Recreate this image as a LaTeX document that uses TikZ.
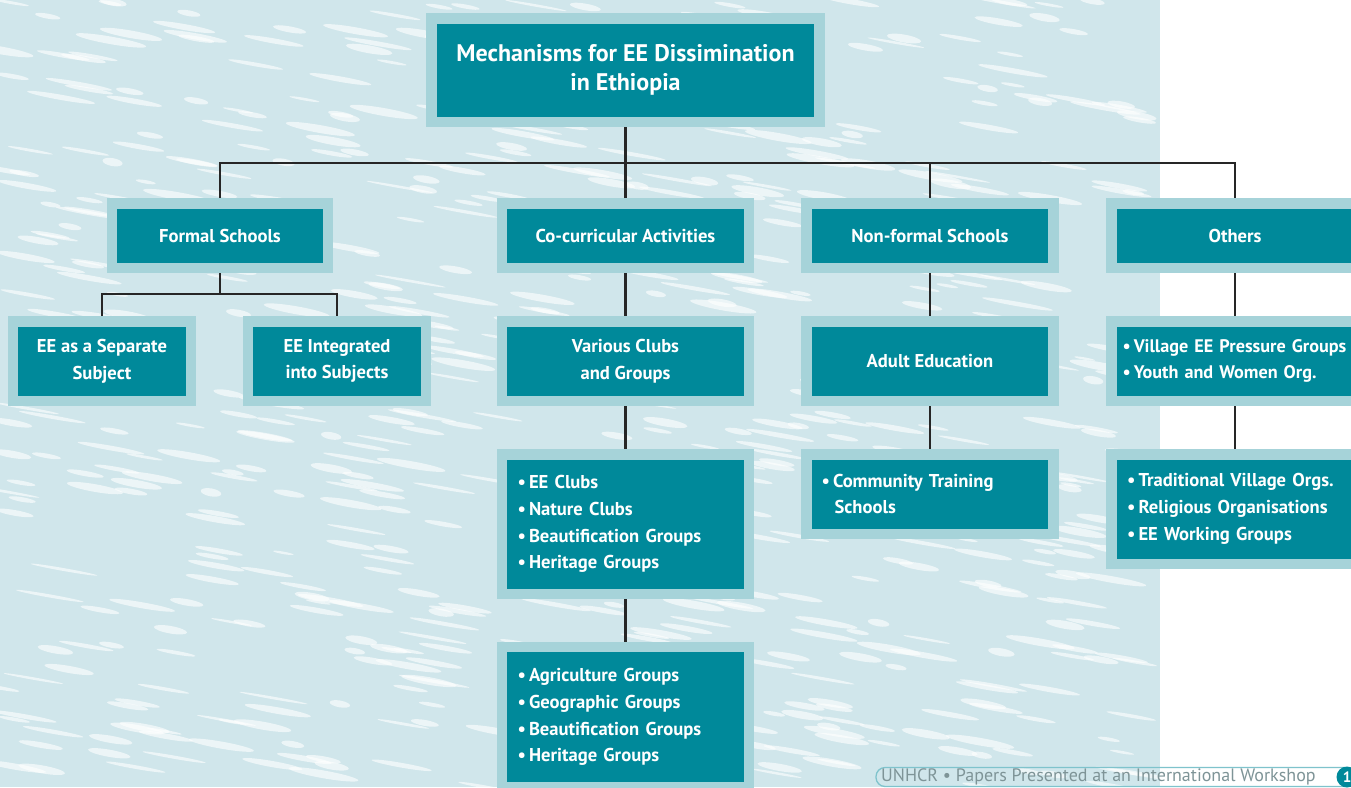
\documentclass[tikz,border=0pt]{standalone}
\usepackage{fontspec}
\setmainfont{PT Sans}
\definecolor{teal0}{HTML}{00899A}
\definecolor{rim}{HTML}{A6D3D9}
\definecolor{bg}{HTML}{D0E6EB}
\definecolor{foot}{HTML}{7E9497}
\definecolor{pill}{HTML}{7FC3CC}
\newcommand{\bul}{\textbullet\,}
\tikzset{
  box/.style={fill=teal0, draw=rim, line width=10.5pt, text=white,
    font=\bfseries\fontsize{18.6}{26.7}\selectfont, align=center,
    inner sep=0pt, minimum width=247pt, minimum height=64.5pt},
  listbox/.style={box, align=left, text width=216pt, inner xsep=15.5pt},
  link/.style={draw=black!85, line width=2.4pt},
  streak/.style={fill=white, opacity=0.6}
}
\begin{document}
\begin{tikzpicture}[x=1pt,y=-1pt]
\useasboundingbox (0,0) rectangle (1351,787);
\fill[bg] (0,0) rectangle (1160,787);
\pgfmathsetseed{11}
\foreach \i in {1,...,650}{
  \pgfmathsetmacro\xx{rnd*1150}
  \pgfmathsetmacro\yy{rnd*787}
  \pgfmathsetmacro\ww{10+rnd*26}
  \pgfmathsetmacro\hh{1.2+rnd*2.8}
  \fill[streak, rotate around={-10:(\xx,\yy)}] (\xx,\yy) ellipse [x radius=\ww, y radius=\hh];
}
\fill[white] (1160,0) rectangle (1351,787);

% title
\node[box, minimum width=388pt, minimum height=103.5pt,
  font=\bfseries\fontsize{24}{29}\selectfont] (title) at (625.5,70)
  {Mechanisms for EE Dissimination\\in Ethiopia};

% level 1
\node[box, minimum width=216pt] (formal) at (220,235.5) {Formal Schools};
\node[box] (cocurr) at (625.5,235.5) {Co-curricular Activities};
\node[box] (nonformal) at (930,235.5) {Non-formal Schools};
\node[box] (others) at (1235,235.5) {Others};

% level 2
\node[box, minimum width=178pt, minimum height=79.5pt] (sep) at (102,361) {EE as a Separate\\Subject};
\node[box, minimum width=178pt, minimum height=79.5pt] (integ) at (337,361) {EE Integrated\\into Subjects};
\node[box, minimum height=79.5pt] (various) at (625.5,361) {Various Clubs\\and Groups};
\node[box, minimum height=79.5pt] (adult) at (930,361) {Adult Education};
\node[listbox, minimum height=79.5pt, inner xsep=11pt, text width=225pt,
  font=\bfseries\fontsize{18.2}{26.7}\selectfont] (village) at (1235,361)
  {\mbox{\bul Village EE Pressure Groups}\\\mbox{\bul Youth and Women Org.}};

% level 3
\node[listbox, minimum height=139.5pt] (clubs) at (625.5,524)
  {\bul EE Clubs\\\bul Nature Clubs\\\bul Beautification Groups\\\bul Heritage Groups};
\node[listbox, minimum height=79.5pt, inner xsep=14.5pt, text width=217pt] (community) at (930,494)
  {\bul Community Training\\\hspace*{13pt}Schools};
\node[listbox, minimum height=109.5pt, inner xsep=15pt] (trad) at (1235,509)
  {\mbox{\bul Traditional Village Orgs.}\\\mbox{\bul Religious Organisations}\\\mbox{\bul EE Working Groups}};

% level 4
\node[listbox, minimum height=140pt] (agri) at (625.5,717)
  {\bul Agriculture Groups\\\bul Geographic Groups\\\bul Beautification Groups\\\bul Heritage Groups};

% connectors
\coordinate (bar) at (0,163);
\coordinate (fbar) at (0,294);
\draw[link] (title.south) -- (title.south |- bar);
\draw[link] (formal.north) |- (bar -| others.north) -- (others.north);
\draw[link] (cocurr.north) -- (cocurr.north |- bar);
\draw[link] (nonformal.north) -- (nonformal.north |- bar);
\draw[link] (formal.south) -- (formal.south |- fbar);
\draw[link] (sep.north) |- (fbar -| integ.north) -- (integ.north);
\draw[link] (cocurr.south) -- (various.north);
\draw[link] (various.south) -- (clubs.north);
\draw[link] (clubs.south) -- (agri.north);
\draw[link] (nonformal.south) -- (adult.north);
\draw[link] (adult.south) -- (community.north);
\draw[link] (others.south) -- (village.north);
\draw[link] (village.south) -- (trad.north);

% footer
\draw[pill, line width=1.3pt, rounded corners=9pt] (1345,767.5) -- (876,767.5) -- (876,786.5) -- (1345,786.5);
\node[anchor=west, text=foot, font=\fontsize{18}{20}\selectfont, inner sep=0pt] (foottext) at (881,777) {UNHCR \textbullet\ Papers Presented at an International Workshop};
\node[circle, fill=teal0, minimum size=21pt, inner sep=0pt, text=white,
  font=\bfseries\fontsize{15}{15}\selectfont] (pagenum) at (1347,777) {1};
\end{tikzpicture}
\end{document}
